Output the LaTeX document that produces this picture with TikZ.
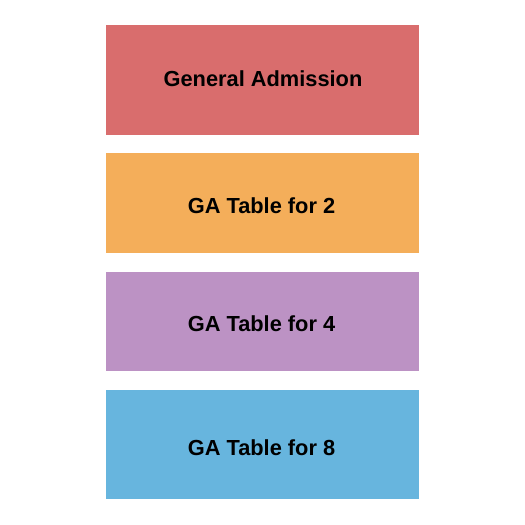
\documentclass[tikz,border=0pt]{standalone}
\usepackage{fontspec}
\setmainfont{Liberation Sans}
\definecolor{cred}{HTML}{D96D6D}
\definecolor{corange}{HTML}{F4AE5A}
\definecolor{cpurple}{HTML}{BC92C4}
\definecolor{cblue}{HTML}{67B5DE}
\begin{document}
\begin{tikzpicture}[x=1pt,y=1pt,
  section/.style={inner sep=0pt, font=\bfseries\fontsize{21.8}{26}\selectfont, text=black}]
\useasboundingbox (0,0) rectangle (525,525);
\fill[white] (0,0) rectangle (525,525);
\fill[cred] (106,525-25.5) rectangle (418.7,525-134.7);
\fill[corange] (106,525-153) rectangle (418.7,525-253.3);
\fill[cpurple] (106,525-272) rectangle (418.7,525-371.3);
\fill[cblue] (106,525-390) rectangle (418.7,525-499.3);
\node[section] (t1) at (263,525-79) {General Admission};
\node[section] (t2) at (261.5,525-205.5) {GA Table for 2};
\node[section] (t3) at (261.5,525-323.5) {GA Table for 4};
\node[section] (t4) at (261.5,525-447.5) {GA Table for 8};
\end{tikzpicture}
\end{document}
